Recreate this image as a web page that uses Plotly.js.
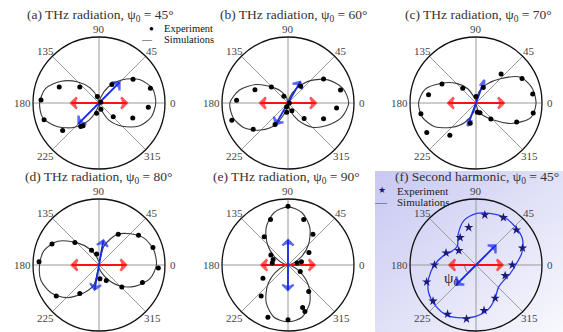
<!DOCTYPE html>
<html><head><meta charset="utf-8">
<script src="https://cdn.plot.ly/plotly-3.0.1.min.js"></script>
<style>html,body{margin:0;padding:0;background:#fff}#chart{width:563px;height:332px}</style>
</head><body><div id="chart"></div>
<script>
// ---------- data ----------
const simTheta = [0,15,30,45,60,75,90,105,120,135,150,165,180,195,210,225,240,255,270,285,300,315,330,345,360];
const simA = [0.86,0.84,0.71,0.50,0.28,0.08,0.00,0.08,0.26,0.45,0.66,0.84,0.90,0.88,0.72,0.52,0.30,0.08,0.00,0.08,0.30,0.50,0.70,0.82,0.86];
const simB = [0.92,0.86,0.70,0.48,0.25,0.08,0.00,0.08,0.20,0.34,0.56,0.76,0.88,0.86,0.76,0.58,0.38,0.12,0.00,0.10,0.30,0.52,0.68,0.84,0.92];
const simC = [0.91,0.88,0.78,0.52,0.33,0.18,0.04,0.08,0.25,0.42,0.60,0.80,0.87,0.84,0.72,0.52,0.34,0.15,0.02,0.12,0.22,0.36,0.62,0.86,0.91];
const simD = [0.87,0.86,0.80,0.67,0.53,0.30,0.05,0.12,0.28,0.48,0.72,0.86,0.90,0.91,0.84,0.70,0.50,0.32,0.05,0.10,0.24,0.45,0.64,0.80,0.87];
const simE = [0.00,0.06,0.22,0.44,0.66,0.82,0.88,0.82,0.66,0.44,0.22,0.06,0.00,0.06,0.22,0.44,0.66,0.82,0.86,0.82,0.66,0.44,0.22,0.06,0.00];
const simF = [0.60,0.72,0.81,0.83,0.84,0.81,0.78,0.70,0.54,0.40,0.42,0.52,0.63,0.74,0.83,0.87,0.88,0.83,0.78,0.70,0.58,0.48,0.48,0.53,0.60];

const expA_theta = [158,140,177,197,217,235,232,104,20,257,287,55,35,16,355,336,316];
const expA_r     = [0.65,0.38,0.88,0.87,0.69,0.42,0.45,0.10,0.03,0.16,0.10,0.34,0.63,0.81,0.75,0.56,0.30];
const expB_theta = [158,136,177,197,217,239,121,0,250,262,297,53,34,14,354,336,316];
const expB_r     = [0.54,0.35,0.78,0.89,0.66,0.38,0.12,0.02,0.06,0.14,0.13,0.32,0.65,0.82,0.74,0.59,0.34];
const expC_theta = [170,151,132,191,211,231,254,90,278,292,65,49,28,9,350,335,313];
const expC_r     = [0.73,0.59,0.30,0.85,0.87,0.63,0.32,0.10,0.14,0.16,0.26,0.58,0.79,0.87,0.88,0.68,0.33];
const expD_theta = [156,137,177,117,102,216,236,274,295,58,37,18,357,338,316];
const expD_r     = [0.78,0.50,0.91,0.25,0.17,0.80,0.52,0.21,0.26,0.55,0.75,0.86,0.90,0.71,0.48];
const expE_theta = [90,111,71,130,51,31,150,160,173,12,14,332,208,229,308,289,290,249,270];
const expE_r     = [0.89,0.74,0.73,0.56,0.60,0.37,0.30,0.24,0.24,0.14,0.21,0.21,0.43,0.62,0.51,0.68,0.75,0.85,0.83];
const expF_theta = [80,60,41,20,0,340,300,280,260,240,220,199,180,158,140,120,101];
const expF_r     = [0.77,0.83,0.81,0.75,0.55,0.47,0.58,0.70,0.83,0.86,0.85,0.79,0.63,0.49,0.34,0.48,0.58];

const panelTitles = [
  "(a) THz radiation, ψ<sub>0</sub> = 45°",
  "(b) THz radiation, ψ<sub>0</sub> = 60°",
  "(c) THz radiation, ψ<sub>0</sub> = 70°",
  "(d) THz radiation, ψ<sub>0</sub> = 80°",
  "(e) THz radiation, ψ<sub>0</sub> = 90°",
  "(f) Second harmonic, ψ<sub>0</sub> = 45°"
];
const redArrowLen  = [0.42,0.42,0.42,0.41,0.40,0.40];
const blueArrowAng = [45,60,70,80,90,45];
const blueArrowLen = [0.44,0.37,0.37,0.38,0.38,0.42];
const arcTheta = [180,189,198,207,216,225];
const arcR     = [0.17,0.17,0.17,0.17,0.17,0.17];
const tickVals = [0,45,90,135,180,225,270,315];
const tickText = ['0','45','90','135','180','225','','315'];
const legendLabels = ['Experiment','Simulations'];

// ---------- layout geometry ----------
const W = 563, H = 332;
const centers = [[99,103],[288,103],[476,103],[99,265],[288,265],[476,265]];
const R = 66;
const titleY = [15,15,15,177,177,177];
const titleX = [100,293,478,98,286,477];
const FONT = 'Liberation Serif';
const px = x => x / W, py = y => 1 - y / H;

const sims = [simA,simB,simC,simD,simE,simF];
const exps = [[expA_theta,expA_r],[expB_theta,expB_r],[expC_theta,expC_r],[expD_theta,expD_r],[expE_theta,expE_r],[expF_theta,expF_r]];

const data = [];
const layout = {
  width: W, height: H, margin: {l:0,r:0,t:0,b:0},
  paper_bgcolor: '#fff', showlegend: false,
  annotations: [], images: []
};
function note(text, x, y, opts) {
  layout.annotations.push(Object.assign({text, xref:'paper', yref:'paper', x: px(x), y: py(y),
    xanchor:'center', yanchor:'middle', showarrow:false, borderpad:0,
    font:{family:FONT, size:11, color:'#444'}}, opts || {}));
}

const svg = "<svg xmlns='http://www.w3.org/2000/svg' width='100' height='100' preserveAspectRatio='none'>" +
  "<defs><linearGradient id='g' x1='0' y1='0' x2='1' y2='1'>" +
  "<stop offset='0' stop-color='rgb(200,200,242)'/><stop offset='1' stop-color='rgb(248,248,253)'/>" +
  "</linearGradient></defs><rect width='100' height='100' fill='url(#g)'/></svg>";
layout.images.push({source: 'data:image/svg+xml;charset=utf-8,' + encodeURIComponent(svg),
  xref:'paper', yref:'paper', x: px(375), y: py(171), sizex: 1-px(375), sizey: py(171),
  sizing:'stretch', layer:'below', xanchor:'left', yanchor:'top'});

for (let i = 0; i < 6; i++) {
  const key = i === 0 ? 'polar' : 'polar' + (i+1);
  const [cx, cy] = centers[i];
  layout[key] = {
    domain: {x: [px(cx-R), px(cx+R)], y: [py(cy+R), py(cy-R)]},
    bgcolor: 'rgba(0,0,0,0)',
    radialaxis: {visible: false, range: [0, 1]},
    angularaxis: {
      tickmode: 'array', tickvals: tickVals, ticktext: tickText, ticks: '', showticklabels: false,
      showgrid: true, gridcolor: '#9a9a9a', gridwidth: 1,
      linecolor: '#111', linewidth: 1.3,
      direction: 'counterclockwise', rotation: 0
    }
  };
  tickVals.forEach((v, k) => {
    const t = tickText[k];
    if (!t) return;
    const a = v * Math.PI / 180;
    if (v === 0) note(t, cx + R + 4, cy, {xanchor:'left'});
    else if (v === 180) note(t, cx - R - 1, cy, {xanchor:'right'});
    else if (v === 90) note(t, cx, cy - R - 1, {yanchor:'bottom'});
    else note(t, cx + 75 * Math.cos(a), cy - 75 * Math.sin(a) + (v < 180 ? 1 : 0));
  });
  note(panelTitles[i], titleX[i], titleY[i], {font:{family:FONT, size:13.5, color:'#333'}});

  const isF = i === 5;
  const sp = key;
  data.push({type:'scatterpolar', subplot: sp, r: sims[i], theta: simTheta, mode:'lines',
    line:{color: isF ? '#2a3cf0' : '#3a3a3a', width: isF ? 1.3 : 1.1, shape:'spline', smoothing:0.8},
    name: legendLabels[1], hoverinfo:'skip'});
  [0, 180].forEach(a => {
    data.push({type:'scatterpolar', subplot: sp, r:[0, redArrowLen[i]], theta:[a, a], mode:'lines+markers',
      line:{color:'#ff1010', width:1.8},
      marker:{symbol:'arrow-wide-open', size:[0,8], angleref:'previous', color:'#ff1010', line:{color:'#ff1010', width:2.5}},
      hoverinfo:'skip'});
  });
  [0, 180].forEach(a => {
    const t = blueArrowAng[i] + a;
    data.push({type:'scatterpolar', subplot: sp, r:[0, blueArrowLen[i]], theta:[t, t], mode:'lines+markers',
      line:{color:'#1428e6', width:1.8},
      marker:{symbol: (i===2 ? 'arrow' : 'arrow-wide-open'), size:[0, i===2 ? 6 : 8], angleref:'previous', color:'#1428e6', line:{color:'#1428e6', width:2.2}},
      hoverinfo:'skip'});
  });
  data.push({type:'scatterpolar', subplot: sp, r: exps[i][1], theta: exps[i][0], mode:'markers',
    marker: isF ? {symbol:'star', size:7, color:'#1a1a7a'} : {symbol:'circle', size:5, color:'#000'},
    name: legendLabels[0], hoverinfo:'skip'});
  if (isF) {
    data.push({type:'scatterpolar', subplot: sp, r: arcR, theta: arcTheta, mode:'lines',
      line:{color:'#555', width:0.8}, hoverinfo:'skip'});
    note('ψ<sub>0</sub>', 451, 279, {font:{family:FONT, size:15, color:'#222'}});
  }
}

// legend keys drawn as text
note('●', 151, 29, {font:{family:FONT, size:8, color:'#000'}});
note(legendLabels[0], 163, 29, {xanchor:'left', font:{family:FONT, size:10.5, color:'#111'}});
note('—', 147, 40, {font:{family:FONT, size:10, color:'#333'}});
note(legendLabels[1], 163, 40, {xanchor:'left', font:{family:FONT, size:10.5, color:'#111'}});

note('★', 382, 190, {font:{family:'DejaVu Sans', size:9, color:'#1a1a7a'}});
note(legendLabels[0], 396, 191, {xanchor:'left', font:{family:FONT, size:11, color:'#222'}});
note('—', 381, 202, {font:{family:FONT, size:12, color:'#2a3cf0'}});
note(legendLabels[1], 396, 202, {xanchor:'left', font:{family:FONT, size:11, color:'#222'}});

Plotly.newPlot('chart', data, layout, {staticPlot:true, displayModeBar:false});
</script></body></html>
